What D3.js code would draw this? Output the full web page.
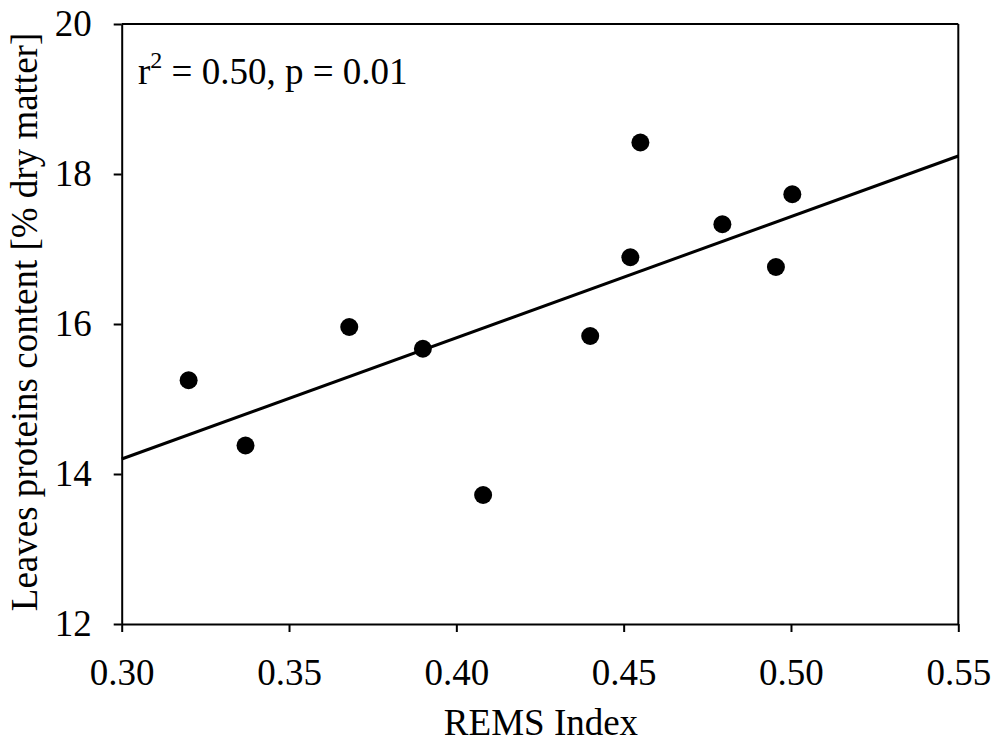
<!DOCTYPE html>
<html>
<head>
<meta charset="utf-8">
<script src="https://cdn.jsdelivr.net/npm/d3@7"></script>
<style>
  body { margin: 0; background: #fff; }
  svg { display: block; font-family: "Liberation Serif", "Times New Roman", serif; }
</style>
</head>
<body>
<svg></svg>
<script>
// REMS index vs leaves protein content
let remsIndex = [0.320, 0.337, 0.368, 0.390, 0.408, 0.440, 0.452, 0.455, 0.4795, 0.4955, 0.5004];
let protein   = [15.25, 14.38, 15.96, 15.67, 13.72, 15.84, 16.89, 18.42, 17.33, 16.76, 17.73];

// fitted line, read at both ends of the x range
let fitX = [0.30, 0.55];
let fitY = [14.20, 18.24];

let xTicks = [0.30, 0.35, 0.40, 0.45, 0.50, 0.55];
let yTicks = [12, 14, 16, 18, 20];

let data = remsIndex.map((d, i) => ({x: d, y: protein[i]}));
let fit = fitX.map((d, i) => ({x: d, y: fitY[i]}));

// margin convention
let margin = {top: 24, right: 41.7, bottom: 122, left: 121.7};
let width = 1000 - margin.left - margin.right;
let height = 746 - margin.top - margin.bottom;

let xScale = d3.scaleLinear().domain([0.30, 0.55]).range([0, width]);
let yScale = d3.scaleLinear().domain([12, 20]).range([height, 0]);

let svg = d3.select('svg')
  .attr('width', 1000)
  .attr('height', 746)
  .append('g')
  .attr('transform', `translate(${margin.left},${margin.top})`);

// top and right frame lines
svg.append('line')
  .attr('x1', xScale(0.30)).attr('x2', xScale(0.55))
  .attr('y1', yScale(20)).attr('y2', yScale(20))
  .attr('stroke', '#000').attr('stroke-width', 2);
svg.append('line')
  .attr('x1', xScale(0.55)).attr('x2', xScale(0.55))
  .attr('y1', yScale(20)).attr('y2', yScale(12))
  .attr('stroke', '#000').attr('stroke-width', 2);

let xAxis = svg.append('g')
  .attr('transform', `translate(0,${height})`)
  .call(d3.axisBottom(xScale).tickValues(xTicks).tickSize(8).tickSizeOuter(0)
    .tickFormat(d3.format('.2f')));

let yAxis = svg.append('g')
  .call(d3.axisLeft(yScale).tickValues(yTicks).tickSize(8).tickSizeOuter(0)
    .tickFormat(d3.format('d')));

[xAxis, yAxis].forEach(ax => {
  ax.select('.domain').attr('stroke', '#000').attr('stroke-width', 2);
  ax.selectAll('.tick line').attr('stroke', '#000').attr('stroke-width', 2);
  ax.selectAll('.tick text')
    .attr('fill', '#000')
    .style('font-family', '"Liberation Serif", serif')
    .style('font-size', '37px');
});
xAxis.selectAll('.tick text').attr('y', 61).attr('dy', 0);
yAxis.selectAll('.tick text').attr('x', -30).attr('dy', '0.32em');

// regression line
let valueline = d3.line()
  .x(d => xScale(d.x))
  .y(d => yScale(d.y));

svg.append('path')
  .datum(fit)
  .attr('d', valueline)
  .attr('fill', 'none')
  .attr('stroke', '#000')
  .attr('stroke-width', 3);

svg.selectAll('.dot')
  .data(data)
  .enter().append('circle')
  .attr('class', 'dot')
  .attr('r', 9)
  .attr('cx', d => xScale(d.x))
  .attr('cy', d => yScale(d.y))
  .attr('fill', '#000');

// stats label
let stat = svg.append('text')
  .attr('x', 138 - margin.left)
  .attr('y', 84 - margin.top)
  .style('font-size', '37px')
  .attr('fill', '#000');
stat.append('tspan').text('r');
stat.append('tspan').attr('dy', -16).style('font-size', '24px').text('2');
stat.append('tspan').attr('dy', 16).text(' = 0.50, p = 0.01');

// axis titles
svg.append('text')
  .attr('x', width / 2 + 1)
  .attr('y', 735 - margin.top)
  .attr('text-anchor', 'middle')
  .style('font-size', '37px')
  .attr('fill', '#000')
  .text('REMS Index');

svg.append('text')
  .attr('transform', 'rotate(-90)')
  .attr('x', -(322 - margin.top))
  .attr('y', 37 - margin.left)
  .attr('text-anchor', 'middle')
  .style('font-size', '37px')
  .attr('fill', '#000')
  .text('Leaves proteins content [% dry matter]');
</script>
</body>
</html>
